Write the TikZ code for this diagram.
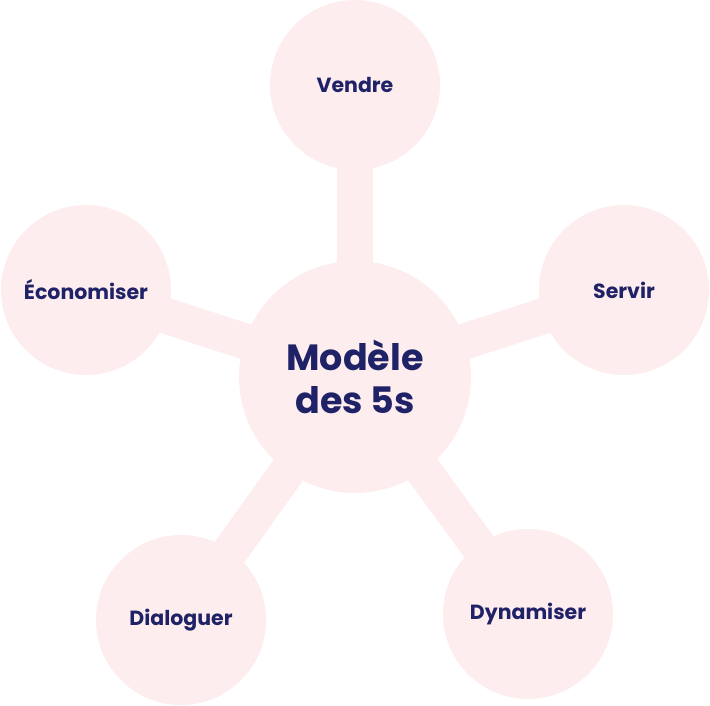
\documentclass[tikz,border=0pt]{standalone}
\usepackage{fontspec}
\setmainfont{Poppins}
\usetikzlibrary{backgrounds}
\definecolor{rosepale}{HTML}{FDEDEE}
\definecolor{marine}{HTML}{1F2266}
\begin{document}
\begin{tikzpicture}[x=1pt,y=-1pt]

  \tikzstyle{hub}=[shape=circle,fill=rosepale,minimum size=232pt,inner sep=0pt,
    text=marine,font=\fontsize{36.5}{43}\selectfont\bfseries,align=center]

  \tikzstyle{leaf}=[shape=circle,fill=rosepale,minimum size=170pt,inner sep=0pt,
    text=marine,font=\fontsize{20.5}{24}\selectfont\bfseries]

  \tikzstyle{spoke}=[draw=rosepale,line width=36pt]

\useasboundingbox (0,0) rectangle (710,706);

%% nodes
\node (M)[hub] at (355,377) {Modèle\\des 5s};

\node (V)[leaf] at (355,85) {Vendre};
\node (S)[leaf] at (624,290) {Servir};
\node (E)[leaf] at (86,290) {Économiser};
\node (D)[leaf] at (181,620) {Dialoguer};
\node (Y)[leaf] at (528,614) {Dynamiser};

%% spokes
\begin{scope}[on background layer]
\path[spoke]
	(M.center) -- (V.center)
	(M.center) -- (S.center)
	(M.center) -- (E.center)
	(M.center) -- (D.center)
	(M.center) -- (Y.center)
;
\end{scope}
\end{tikzpicture}
\end{document}
